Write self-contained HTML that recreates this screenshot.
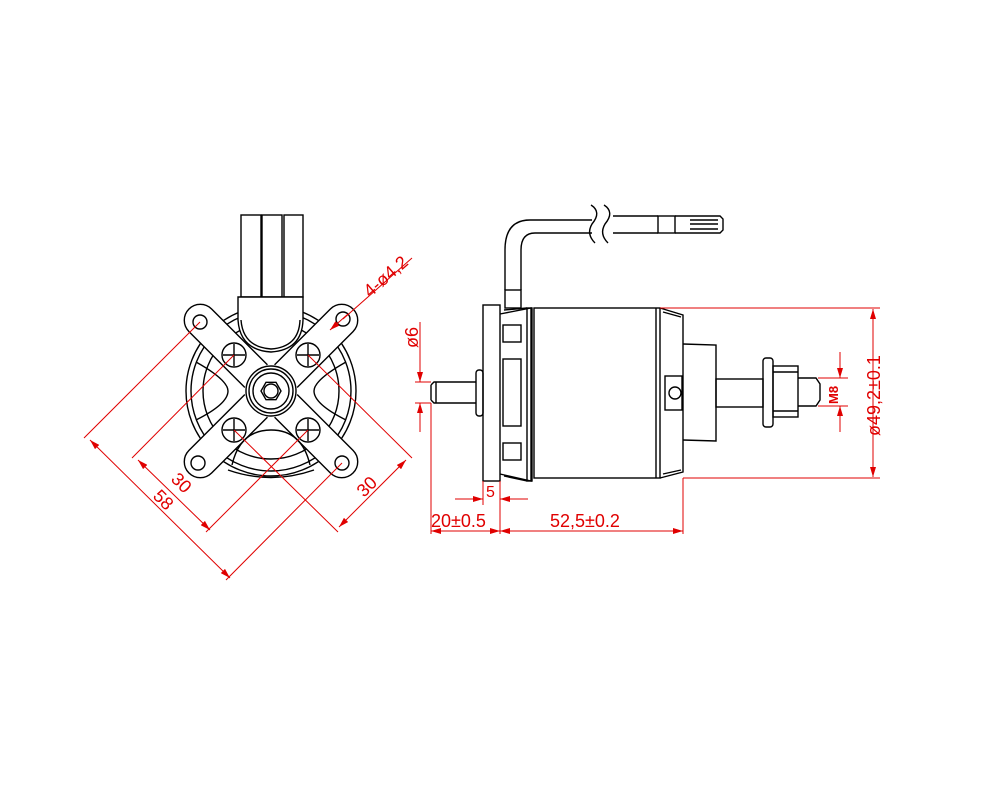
<!DOCTYPE html>
<html><head><meta charset="utf-8"><style>body{margin:0;background:#fff}svg{display:block}</style></head><body>
<svg width="1000" height="800" viewBox="0 0 1000 800" xmlns="http://www.w3.org/2000/svg">
<defs>
<marker id="a" viewBox="0 0 10 6" refX="10" refY="3" markerWidth="10" markerHeight="6" orient="auto-start-reverse" markerUnits="userSpaceOnUse"><path d="M0,0L10,3L0,6z" fill="#e00000"/></marker>
</defs>
<rect width="1000" height="800" fill="#fff"/>
<g fill="none" stroke="#000" stroke-width="1.4">
<rect x="241" y="215" width="20" height="82"/><rect x="262" y="215" width="20" height="82"/><rect x="284" y="215" width="19" height="82"/>
<circle cx="271" cy="391" r="85"/><circle cx="271" cy="391" r="80"/>
<circle cx="271" cy="391" r="68"/>
<path d="M196,362 Q228,380 228,391 Q228,404 196,420" /><path d="M346,362 Q314,380 314,391 Q314,404 346,420"/>
<g fill="#fff">
<rect x="155" y="375" width="232" height="32" rx="16" transform="rotate(45 271 391)"/>
<rect x="155" y="375" width="232" height="32" rx="16" transform="rotate(-45 271 391)"/>
</g>
<rect x="250" y="370" width="42" height="42" fill="#fff" stroke="none" transform="rotate(45 271 391)"/>
<path d="M238,297 L238,320 Q240,350 271,352 Q302,350 303,320 L303,297 Z" fill="#fff"/>
<path d="M241,320 Q243,347 271,349 Q299,347 300,320"/>
<path d="M232,465 Q240,430 271,430 Q302,430 310,465" />
<path d="M228,470 Q271,485 314,470"/>
<g fill="#fff"><circle cx="200" cy="322" r="7"/><circle cx="343" cy="319" r="7"/><circle cx="198" cy="463" r="7"/><circle cx="342" cy="463" r="7"/></g>
<g fill="#fff">
<circle cx="234" cy="355" r="12"/><circle cx="308" cy="355" r="12"/><circle cx="234" cy="430" r="12"/><circle cx="308" cy="430" r="12"/>
</g>
<path d="M234,344V366M223,355H245M308,344V366M297,355H319M234,419V441M223,430H245M308,419V441M297,430H319"/>
<circle cx="271" cy="391" r="25"/><circle cx="271" cy="391" r="22"/><circle cx="271" cy="391" r="18"/>
<path d="M281,391L276,399.7L266,399.7L261,391L266,382.3L276,382.3Z"/><circle cx="271" cy="391" r="7"/>
<rect x="483" y="305" width="17" height="176"/>
<path d="M500,314L531,308L531,481L500,474"/>
<path d="M504,310L527,308M504,476L527,481"/>
<rect x="527" y="308" width="5" height="173"/>
<rect x="503" y="325" width="18" height="17"/><rect x="503" y="443" width="18" height="17"/><rect x="503" y="359" width="18" height="67"/>
<rect x="534" y="308" width="126" height="170"/>
<path d="M656,308V478M660,308L683,315L683,472L660,478M663,312L681,317M663,474L681,470"/>
<path d="M683,344L716,345L716,441L683,440"/>
<rect x="665" y="376" width="17" height="34"/><circle cx="675" cy="393" r="6"/>
<rect x="716" y="379" width="47" height="28"/>
<rect x="763" y="358" width="10" height="69" rx="3"/>
<rect x="773" y="366" width="25" height="51"/><path d="M773,372H798M773,411H798"/>
<path d="M798,378H816L820,384V400L816,406H798"/>
<path d="M431,385L434,382H476M431,400L434,403H476M431,385V400M436,382V403"/>
<rect x="476" y="370" width="7" height="46" rx="3"/>
<path d="M505,290V250Q505,220 530,220H592M521,290V250Q521,233 535,233H592M613,216H658M613,233H658"/>
<rect x="505" y="290" width="16" height="18"/>
<path d="M591,205Q602,212 592,224Q586,234 595,243M604,205Q615,212 605,224Q599,234 608,243"/>
<rect x="658" y="216" width="17" height="17"/><path d="M675,216H720L723,219V230L720,233H675M690,220H718M690,229H718M690,224H718"/>
</g>
<g stroke="#e00000" stroke-width="1" fill="none">
<path d="M343,319L412,258"/><path d="M330,330L348,314" marker-start="url(#a)"/>
<path d="M200,322L84,438M342,463L226,580"/><path d="M90,440L230,578" marker-start="url(#a)" marker-end="url(#a)"/>
<path d="M234,355L132,458M308,430L206,532"/><path d="M138,460L210,530" marker-start="url(#a)" marker-end="url(#a)"/>
<path d="M308,355L412,458M234,430L338,532"/><path d="M406,460L339,527" marker-start="url(#a)" marker-end="url(#a)"/>
<path d="M660,308H880M683,478H880"/><path d="M873,309V477" marker-start="url(#a)" marker-end="url(#a)"/>
<path d="M818,378H848M818,406H848"/><path d="M840,352V378" marker-end="url(#a)"/><path d="M840,432V406" marker-end="url(#a)"/>
<path d="M415,382H431M415,403H431M420,322V382M420,403V432"/><path d="M420,366V382" marker-end="url(#a)"/><path d="M420,418V403" marker-end="url(#a)"/>
<path d="M431,403V534M500,481V534M483,481V505M683,478V534"/>
<path d="M431,531H500" marker-start="url(#a)" marker-end="url(#a)"/><path d="M500,531H683" marker-start="url(#a)" marker-end="url(#a)"/>
<path d="M455,499H483" marker-end="url(#a)"/><path d="M528,499H500" marker-end="url(#a)"/>
</g>
<g fill="#e00000" font-family="Liberation Sans, sans-serif" font-size="18">
<text x="0" y="0" transform="translate(370,298) rotate(-41)">4-ø4,2</text>
<text x="0" y="0" transform="translate(152,497) rotate(45)">58</text>
<text x="0" y="0" transform="translate(170,480) rotate(45)">30</text>
<text x="0" y="0" transform="translate(364,498) rotate(-45)">30</text>
<text x="0" y="0" transform="translate(880,436) rotate(-90)">ø49,2±0.1</text>
<text x="0" y="0" font-size="13" font-weight="bold" transform="translate(838,404) rotate(-90)">M8</text>
<text x="0" y="0" transform="translate(418,348) rotate(-90)">ø6</text>
<text x="431" y="527">20±0.5</text>
<text x="550" y="527">52,5±0.2</text>
<text x="486" y="497" font-size="16">5</text>
</g>
</svg>
</body></html>
